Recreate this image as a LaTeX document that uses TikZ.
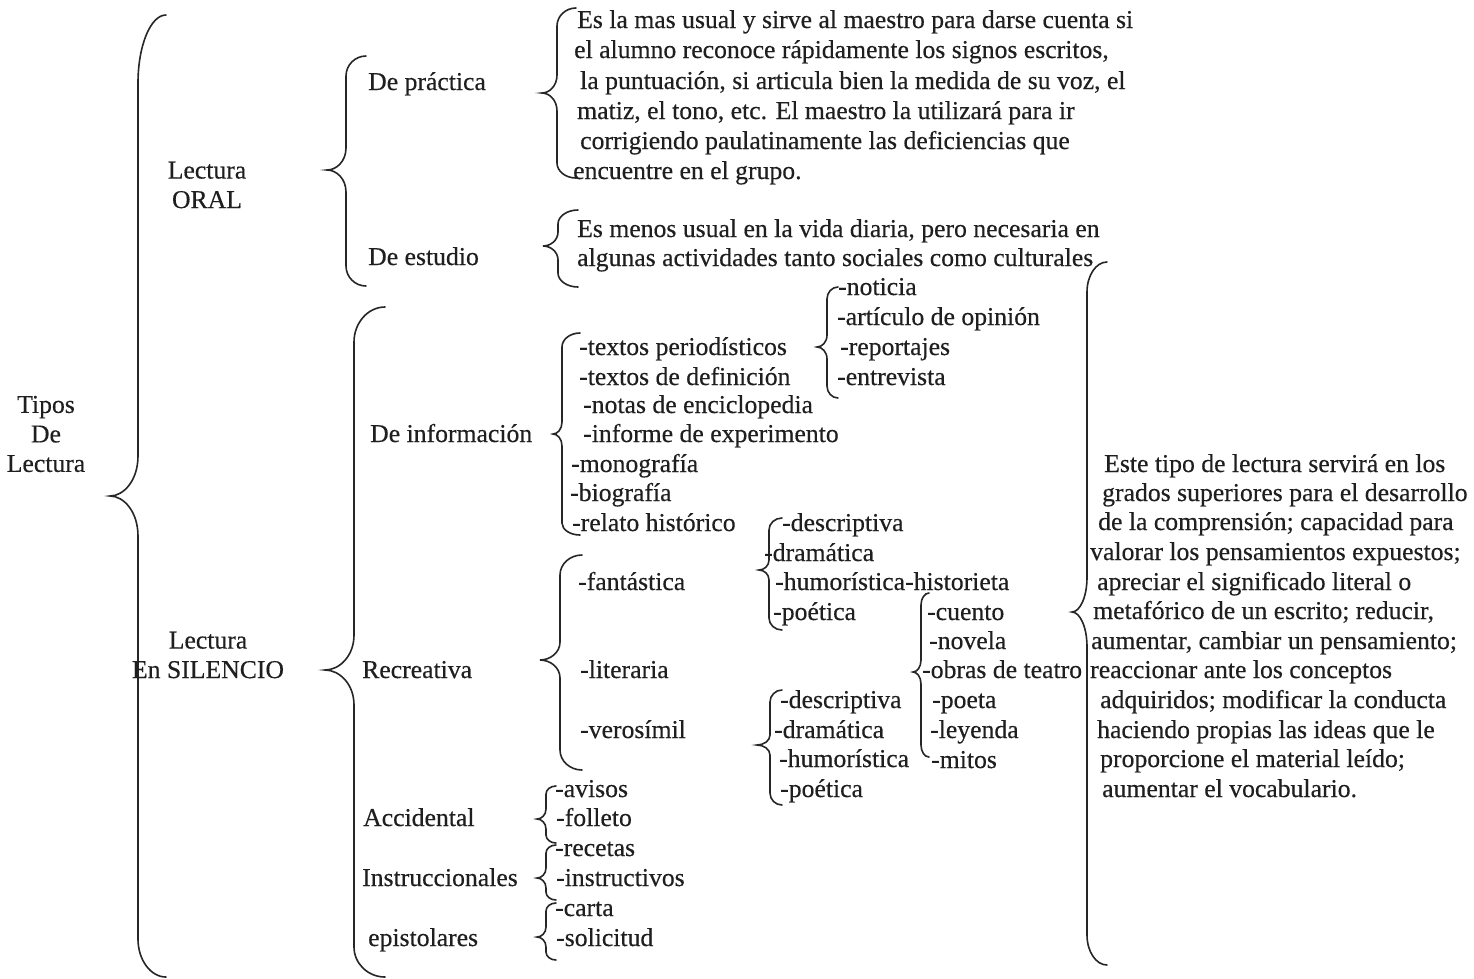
\documentclass[tikz,border=0pt]{standalone}
\usepackage{fontspec}
\setmainfont{Liberation Serif}[FakeBold=0.35]
% #1 end x, #2 vertical x, #3 tip x, #4 top y, #5 tip y, #6 bottom y, #7 top radius, #8 tip radius, #9 bottom radius
\newcommand{\lbr}[9]{%
 \draw[br] ({#1},{#4}) .. controls ({#2+0.45*(#1-#2)},{#4}) and ({#2},{#4+0.45*#7}) .. ({#2},{#4+#7})
  -- ({#2},{#5-#8}) .. controls ({#2},{#5-0.4*#8}) and ({#3+0.5*(#2-#3)},{#5}) .. ({#3},{#5})
  .. controls ({#3+0.5*(#2-#3)},{#5}) and ({#2},{#5+0.4*#8}) .. ({#2},{#5+#8})
  -- ({#2},{#6-#9}) .. controls ({#2},{#6-0.45*#9}) and ({#2+0.45*(#1-#2)},{#6}) .. ({#1},{#6});}
\begin{document}
\begin{tikzpicture}[x=1pt,y=-1pt,
  txt/.style={anchor=base west,inner sep=0pt,font=\fontsize{25.7}{29.5}\selectfont,text=black!88},
  ctr/.style={anchor=center,inner sep=0pt,align=center,font=\fontsize{25.7}{29.5}\selectfont,text=black!88},
  br/.style={line width=1.6pt,draw=black!85,line cap=round}]
\useasboundingbox[fill=white] (0,0) rectangle (1474,978);
% braces
\lbr{166}{138}{110}{15}{496}{977}{68}{40}{38}
\lbr{366}{346}{327}{56}{170}{286}{20}{22}{20}
\lbr{576}{557}{542}{8}{93}{178}{18}{18}{15}
\lbr{578}{558}{543}{210}{246}{287}{14}{14}{14}
\lbr{385}{354}{325}{307}{670}{977}{35}{35}{30}
\lbr{580}{562}{553}{333}{434}{535}{14}{12}{12}
\lbr{838}{827}{817}{287}{347}{398}{12}{12}{12}
\lbr{582}{560}{540}{555}{660}{770}{20}{18}{20}
\lbr{782}{769}{759}{518}{570}{630}{12}{10}{12}
\lbr{929}{921}{913}{593}{672}{757}{12}{12}{12}
\lbr{782}{770}{757}{690}{745}{805}{12}{10}{12}
\lbr{556}{546}{537}{786}{819}{843}{8}{10}{8}
\lbr{556}{546}{537}{845}{878}{900}{8}{10}{8}
\lbr{556}{546}{537}{903}{937}{960}{8}{10}{8}
\lbr{1107}{1087}{1072}{262}{612}{965}{30}{35}{30}
% left column
\node[ctr] (tipos) at (46,434) {Tipos\\De\\Lectura};
\node[ctr] (oral) at (207,185) {Lectura\\ORAL};
\node[ctr] (sil) at (208,655) {Lectura\\En SILENCIO};
\node[txt] (prac) at (368,90) {De práctica};
\node[txt] (est) at (368,265) {De estudio};
\node[txt] (d1) at (577,28) {Es la mas usual y sirve al maestro para darse cuenta si};
\node[txt] (d2) at (574,58) {el alumno reconoce rápidamente los signos escritos,};
\node[txt] (d3) at (580,89) {la puntuación, si articula bien la medida de su voz, el};
\node[txt] (d4) at (577,119) {matiz, el tono, etc. El maestro la utilizará para ir};
\node[txt] (d5) at (580,149) {corrigiendo paulatinamente las deficiencias que};
\node[txt] (d6) at (573,179) {encuentre en el grupo.};
\node[txt] (e1) at (577,237) {Es menos usual en la vida diaria, pero necesaria en};
\node[txt] (e2) at (577,266) {algunas actividades tanto sociales como culturales};
% silencio
\node[txt] (info) at (370,442) {De información};
\node[txt] (i1) at (579,355) {-textos periodísticos};
\node[txt] (i2) at (579,385) {-textos de definición};
\node[txt] (i3) at (583,413) {-notas de enciclopedia};
\node[txt] (i4) at (583,442) {-informe de experimento};
\node[txt] (i5) at (571,472) {-monografía};
\node[txt] (i6) at (570,501) {-biografía};
\node[txt] (i7) at (572,531) {-relato histórico};
\node[txt] (n1) at (838,295) {-noticia};
\node[txt] (n2) at (837,325) {-artículo de opinión};
\node[txt] (n3) at (840,355) {-reportajes};
\node[txt] (n4) at (837,385) {-entrevista};
\node[txt] (recr) at (362,678) {Recreativa};
\node[txt] (fan) at (578,590) {-fantástica};
\node[txt] (lit) at (580,678) {-literaria};
\node[txt] (ver) at (580,738) {-verosímil};
\node[txt] (f1) at (782,531) {-descriptiva};
\node[txt] (f2) at (764,561) {-dramática};
\node[txt] (f3) at (775,590) {-humorística-historieta};
\node[txt] (f4) at (773,620) {-poética};
\node[txt] (l1) at (927,620) {-cuento};
\node[txt] (l2) at (929,649) {-novela};
\node[txt] (l3) at (922,678) {-obras de teatro};
\node[txt] (l4) at (932,708) {-poeta};
\node[txt] (l5) at (930,738) {-leyenda};
\node[txt] (l6) at (931,768) {-mitos};
\node[txt] (v1) at (780,708) {-descriptiva};
\node[txt] (v2) at (774,738) {-dramática};
\node[txt] (v3) at (779,767) {-humorística};
\node[txt] (v4) at (780,797) {-poética};
\node[txt] (acc) at (363,826) {Accidental};
\node[txt] (ins) at (362,886) {Instruccionales};
\node[txt] (epi) at (368,946) {epistolares};
\node[txt] (a1) at (555,797) {-avisos};
\node[txt] (a2) at (556,826) {-folleto};
\node[txt] (a3) at (555,856) {-recetas};
\node[txt] (a4) at (556,886) {-instructivos};
\node[txt] (a5) at (555,916) {-carta};
\node[txt] (a6) at (556,946) {-solicitud};
% right text
\node[txt] (r1) at (1104,472) {Este tipo de lectura servirá en los};
\node[txt] (r2) at (1102,501) {grados superiores para el desarrollo};
\node[txt] (r3) at (1098,530) {de la comprensión; capacidad para};
\node[txt] (r4) at (1090,560) {valorar los pensamientos expuestos;};
\node[txt] (r5) at (1097,590) {apreciar el significado literal o};
\node[txt] (r6) at (1093,619) {metafórico de un escrito; reducir,};
\node[txt] (r7) at (1091,649) {aumentar, cambiar un pensamiento;};
\node[txt] (r8) at (1090,678) {reaccionar ante los conceptos};
\node[txt] (r9) at (1100,708) {adquiridos; modificar la conducta};
\node[txt] (r10) at (1097,738) {haciendo propias las ideas que le};
\node[txt] (r11) at (1100,767) {proporcione el material leído;};
\node[txt] (r12) at (1102,797) {aumentar el vocabulario.};
\end{tikzpicture}
\end{document}
